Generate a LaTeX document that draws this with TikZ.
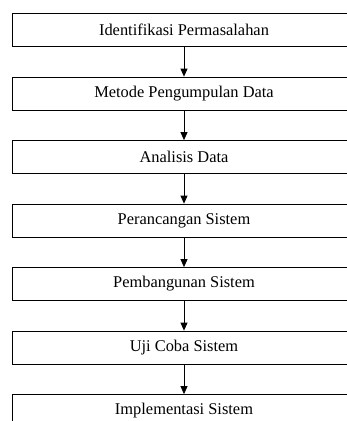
\documentclass[tikz,border=0pt]{standalone}
\usepackage{fontspec}
\setmainfont{Liberation Serif}
\usetikzlibrary{arrows.meta}
\begin{document}
\begin{tikzpicture}[x=1pt, y=1pt, >={Triangle[width=7pt, length=8pt]},
    every node/.style={font=\fontsize{16.4}{20}\selectfont},
    tahap/.style={draw, line width=0.8pt, minimum width=344pt, minimum height=33pt, inner sep=0pt}]
  \useasboundingbox (0,0) rectangle (347,-421);
  \clip (0,0) rectangle (347,-421);
  % tahapan penelitian, dari atas ke bawah
  \foreach \teks [count=\i] in {Identifikasi Permasalahan, Metode Pengumpulan Data,
      Analisis Data, Perancangan Sistem, Pembangunan Sistem, Uji Coba Sistem,
      Implementasi Sistem} {
    \node[tahap] (t\i) at (184, {-30-63.5*(\i-1)}) {\teks};
  }
  % panah antar tahap
  \foreach \i [evaluate=\i as \next using int(\i+1)] in {1,...,6} {
    \draw[->, line width=0.8pt] (t\i) -- (t\next);
  }
\end{tikzpicture}
\end{document}
